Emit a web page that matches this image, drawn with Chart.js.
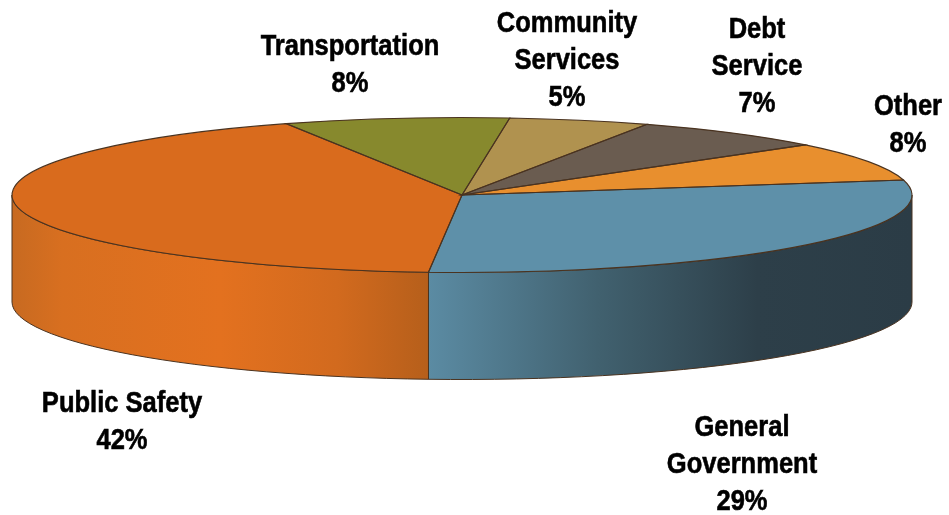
<!DOCTYPE html>
<html lang="en">
<head>
  <meta charset="UTF-8">
  <title>Expenditures by Function</title>
  <script src="https://cdn.jsdelivr.net/npm/chart.js"></script>
  <style>
    body { margin: 0; background: #fff; }
    canvas { display: block; }
  </style>
</head>
<body>
  <canvas id="pie" width="949" height="515"></canvas>
  <script>
    // clockwise from the back of the pie
    const categories = [['Transportation'], ['Community', 'Services'], ['Debt', 'Service'], ['Other'], ['General', 'Government'], ['Public Safety']];
    const values = [8, 5, 7, 8, 29, 42];

    const topColors = ['#87892d', '#b0924f', '#6a5c50', '#e88f2e', '#5e90a9', '#d96b1d'];
    // horizontal shading of the wall, only the two front slices show one
    const wallStops = {
      4: [[0, '#5b8ba3'], [0.35, '#41616f'], [0.68, '#2d3f49'], [1, '#2b3c46']],
      5: [[0, '#c76a21'], [0.12, '#d86f20'], [0.5, '#e3711f'], [0.78, '#d26a1e'], [1, '#b65f1b']]
    };
    // centre x and first baseline of each label
    const labelAnchors = [[350, 55], [567, 32], [757, 38], [908, 115], [742, 436], [122, 412]];

    const squash = 77.5 / 450;
    const depth = 107;
    const edge = '#4a3320';

    function slicePath(ctx, arc, ry) {
      ctx.beginPath();
      ctx.moveTo(arc.x, arc.y);
      ctx.ellipse(arc.x, arc.y, arc.outerRadius, ry, 0, arc.startAngle, arc.endAngle);
      ctx.closePath();
    }

    const tiltedPie = {
      id: 'tiltedPie',
      beforeDatasetsDraw(chart) {
        const ctx = chart.ctx;
        const arcs = chart.getDatasetMeta(0).data;
        // wall under the near half of the rim
        arcs.forEach((arc, i) => {
          const stops = wallStops[i];
          if (!stops) return;
          const ry = arc.outerRadius * squash;
          let a = arc.startAngle, b = arc.endAngle;
          if (a > Math.PI || b > 2 * Math.PI) { a -= 2 * Math.PI; b -= 2 * Math.PI; }
          a = Math.max(a, 0);
          b = Math.min(b, Math.PI);
          const x0 = arc.x + arc.outerRadius * Math.cos(b);
          const x1 = arc.x + arc.outerRadius * Math.cos(a);
          const grad = ctx.createLinearGradient(x0, 0, x1, 0);
          stops.forEach(s => grad.addColorStop(s[0], s[1]));
          ctx.beginPath();
          ctx.ellipse(arc.x, arc.y, arc.outerRadius, ry, 0, a, b);
          ctx.ellipse(arc.x, arc.y + depth, arc.outerRadius, ry, 0, b, a, true);
          ctx.closePath();
          ctx.fillStyle = grad;
          ctx.fill();
          ctx.strokeStyle = edge;
          ctx.lineWidth = 1;
          ctx.stroke();
        });
        // the arcs themselves get drawn flattened
        const cy = arcs[0].y;
        ctx.save();
        ctx.translate(0, cy);
        ctx.scale(1, squash);
        ctx.translate(0, -cy);
      },
      afterDatasetsDraw(chart) {
        const ctx = chart.ctx;
        ctx.restore();
        chart.getDatasetMeta(0).data.forEach(arc => {
          slicePath(ctx, arc, arc.outerRadius * squash);
          ctx.strokeStyle = edge;
          ctx.lineWidth = 1.1;
          ctx.stroke();
        });
      },
      afterDraw(chart) {
        const ctx = chart.ctx;
        ctx.save();
        ctx.fillStyle = '#000';
        ctx.strokeStyle = '#000';
        ctx.lineWidth = 0.6;
        ctx.font = 'bold 29px "Liberation Sans", Arial, sans-serif';
        ctx.textAlign = 'center';
        categories.forEach((lines, i) => {
          const [x, y] = labelAnchors[i];
          [...lines, values[i] + '%'].forEach((line, n) => {
            ctx.save();
            ctx.translate(x, y + n * 37);
            ctx.scale(0.88, 1);
            ctx.fillText(line, 0, 0);
            ctx.strokeText(line, 0, 0);
            ctx.restore();
          });
        });
        ctx.restore();
      }
    };

    new Chart(document.getElementById('pie'), {
      type: 'pie',
      data: {
        labels: categories,
        datasets: [{
          data: values,
          backgroundColor: topColors,
          borderWidth: 0,
          clip: false
        }]
      },
      options: {
        responsive: false,
        animation: false,
        radius: 450,
        rotation: -23,
        layout: { padding: { left: 0, top: 0, right: 25, bottom: 125 } },
        plugins: {
          legend: { display: false },
          tooltip: { enabled: false }
        }
      },
      plugins: [tiltedPie]
    });
  </script>
</body>
</html>
